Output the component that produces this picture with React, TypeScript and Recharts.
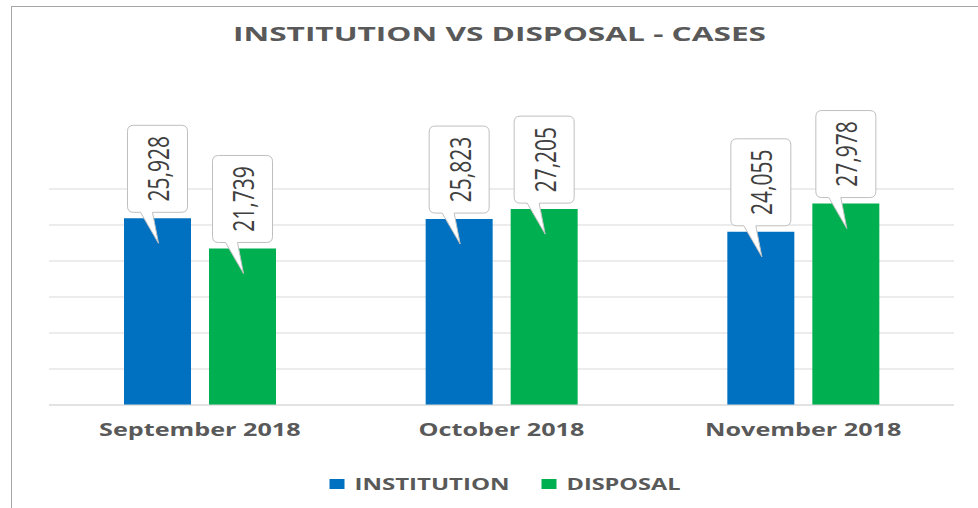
import React from 'react';
import { BarChart, Bar, XAxis, YAxis, CartesianGrid, Legend, LabelList } from 'recharts';

const months = ['September 2018', 'October 2018', 'November 2018'];
const institution = [25928, 25823, 24055];
const disposal = [21739, 27205, 27978];
const yTicks = [0, 5000, 10000, 15000, 20000, 25000, 30000];
const seriesNames = ['INSTITUTION', 'DISPOSAL'];

const BLUE = '#0070C0';
const GREEN = '#00B050';
const TEXT = '#595959';
const FONT = '"Open Sans", Arial, sans-serif';
// the reference picture is stretched sideways, so text gets the same stretch
const STRETCH = 1.4;

const data = months.map((month, i) => ({
  month,
  institution: institution[i],
  disposal: disposal[i],
}));

const Callout = (props: any) => {
  const { x, y, width, value } = props;
  const cx = x + width / 2;
  const top = y;
  const w = 60;
  const h = 87;
  const r = 6;
  const B = top - 6;
  const T = B - h;
  const L = cx - w / 2;
  const R = cx + w / 2;
  const d = `M${L + r},${T} H${R - r} Q${R},${T} ${R},${T + r} V${B - r} Q${R},${B} ${R - r},${B} H${cx - 5} L${cx + 1},${top + 25} L${cx - 17},${B} H${L + r} Q${L},${B} ${L},${B - r} V${T + r} Q${L},${T} ${L + r},${T} Z`;
  return (
    <g>
      <path d={d} fill="#fff" stroke="#bfbfbf" strokeWidth={1} />
      <text
        transform={`translate(${cx},${(T + B) / 2}) scale(${STRETCH},1) rotate(-90)`}
        textAnchor="middle"
        dominantBaseline="central"
        fontFamily={FONT}
        fontSize={21}
        fill="#404040"
      >
        {Number(value).toLocaleString('en-US')}
      </text>
    </g>
  );
};

const MonthTick = (props: any) => {
  const { x, y, payload } = props;
  return (
    <text
      transform={`translate(${x},${y + 31}) scale(${STRETCH},1)`}
      textAnchor="middle"
      fontFamily={FONT}
      fontWeight={700}
      fontSize={18}
      fill={TEXT}
    >
      {payload.value}
    </text>
  );
};

const LegendBox = (props: any) => {
  const items = [...(props.payload || [])].sort(
    (a: any, b: any) => seriesNames.indexOf(a.value) - seriesNames.indexOf(b.value)
  );
  const lens: Record<string, number> = { INSTITUTION: 155, DISPOSAL: 114 };
  const total = items.reduce((s: number, it: any) => s + 25 + (lens[it.value] || 100), 0) + 32 * (items.length - 1);
  let cur = 505 - total / 2;
  return (
    <svg width={978} height={24}>
      {items.map((it: any) => {
        const start = cur;
        const len = lens[it.value] || 100;
        cur += 25 + len + 32;
        return (
          <g key={it.value}>
            <rect x={start} y={7} width={15} height={10} fill={it.color} />
            <text
              x={start + 25}
              y={18}
              textLength={len}
              lengthAdjust="spacingAndGlyphs"
              fontFamily={FONT}
              fontWeight={700}
              fontSize={16}
              fill={TEXT}
            >
              {it.value}
            </text>
          </g>
        );
      })}
    </svg>
  );
};

export default function App() {
  return (
    <div style={{ position: 'absolute', left: 0, top: 0, width: 978, height: 508, overflow: 'hidden', background: '#fff' }}>
      <div
        style={{
          position: 'absolute',
          left: 11,
          top: 6,
          width: 1100,
          height: 700,
          border: '1.5px solid #a6a6a6',
          boxSizing: 'border-box',
        }}
      />
      <svg style={{ position: 'absolute', left: 0, top: 0 }} width={978} height={60}>
        <text
          x={499.5}
          y={41}
          textAnchor="middle"
          textLength={533}
          lengthAdjust="spacingAndGlyphs"
          fontFamily={FONT}
          fontWeight={700}
          fontSize={20}
          fill={TEXT}
        >
          INSTITUTION VS DISPOSAL - CASES
        </text>
      </svg>
      <div style={{ position: 'absolute', left: 0, top: 0 }}>
        <BarChart
          width={978}
          height={508}
          data={data}
          margin={{ top: 189, right: 24, left: 49, bottom: 29 }}
          barCategoryGap={75}
          barGap={18}
        >
          <CartesianGrid horizontal vertical={false} stroke="#d9d9d9" />
          <YAxis hide domain={[0, 30000]} ticks={yTicks} width={0} />
          <XAxis
            dataKey="month"
            height={50}
            tickSize={0}
            tickMargin={0}
            axisLine={{ stroke: '#d9d9d9' }}
            tickLine={false}
            tick={<MonthTick />}
            interval={0}
          />
          <Legend
            verticalAlign="bottom"
            content={<LegendBox />}
            wrapperStyle={{ top: 472, left: 0, width: 978, height: 24 }}
          />
          <Bar dataKey="institution" name={seriesNames[0]} fill={BLUE} isAnimationActive={false}>
            <LabelList dataKey="institution" content={<Callout />} />
          </Bar>
          <Bar dataKey="disposal" name={seriesNames[1]} fill={GREEN} isAnimationActive={false}>
            <LabelList dataKey="disposal" content={<Callout />} />
          </Bar>
        </BarChart>
      </div>
    </div>
  );
}
